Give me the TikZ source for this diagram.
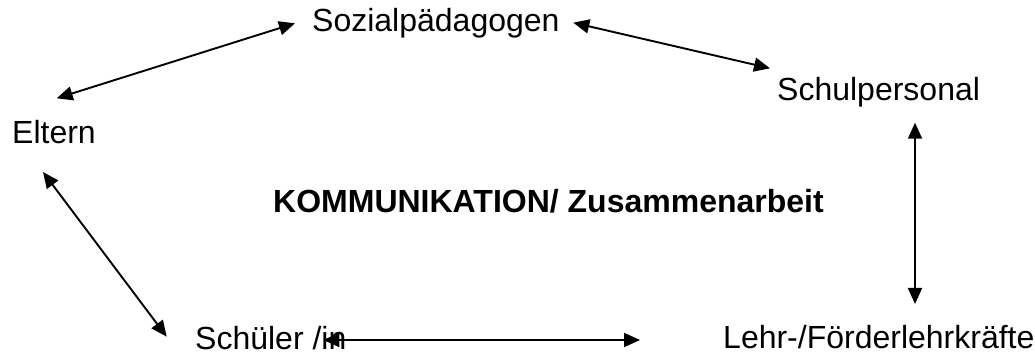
\documentclass[tikz,border=0pt]{standalone}
\usepackage{fontspec}
\setmainfont{Liberation Sans}
\usetikzlibrary{arrows.meta}
\tikzset{
  lbl/.style={inner sep=0pt, anchor=base west, font=\fontsize{32}{38}\selectfont},
  boldlbl/.style={lbl, font=\fontsize{32}{38}\selectfont\bfseries},
  link/.style={line width=1.9pt, {Triangle[length=16pt,width=14pt]}-{Triangle[length=16pt,width=14pt]}}
}
\begin{document}
\begin{tikzpicture}[x=1pt,y=1pt]
\useasboundingbox (0,0) rectangle (1035,355);
\node[lbl] (soz) at (312,323) {Sozialpädagogen};
\node[lbl] (elt) at (12,211) {Eltern};
\node[lbl] (spers) at (777,254) {Schulpersonal};
\node[boldlbl] (komm) at (273,142) {KOMMUNIKATION/ Zusammenarbeit};
\node[lbl] (lehr) at (723,6) {Lehr-/Förderlehrkräfte};
\node[lbl] (schue) at (195,5) {Schüler /in};
% connector endpoints
\coordinate (eltA) at (56.7,256.7);
\coordinate (sozA) at (295,331.7);
\coordinate (sozB) at (573.3,332.3);
\coordinate (spersA) at (770,286.7);
\coordinate (spersB) at (915,232.3);
\coordinate (lehrA) at (915,51);
\coordinate (eltB) at (43,183);
\coordinate (schueA) at (166.7,18.3);
\coordinate (schueB) at (323.3,15);
\coordinate (lehrB) at (640,15);
\draw[link] (eltA) -- (sozA);
\draw[link] (sozB) -- (spersA);
\draw[link] (spersB) -- (lehrA);
\draw[link] (eltB) -- (schueA);
\draw[link] (schueB) -- (lehrB);
\end{tikzpicture}
\end{document}
